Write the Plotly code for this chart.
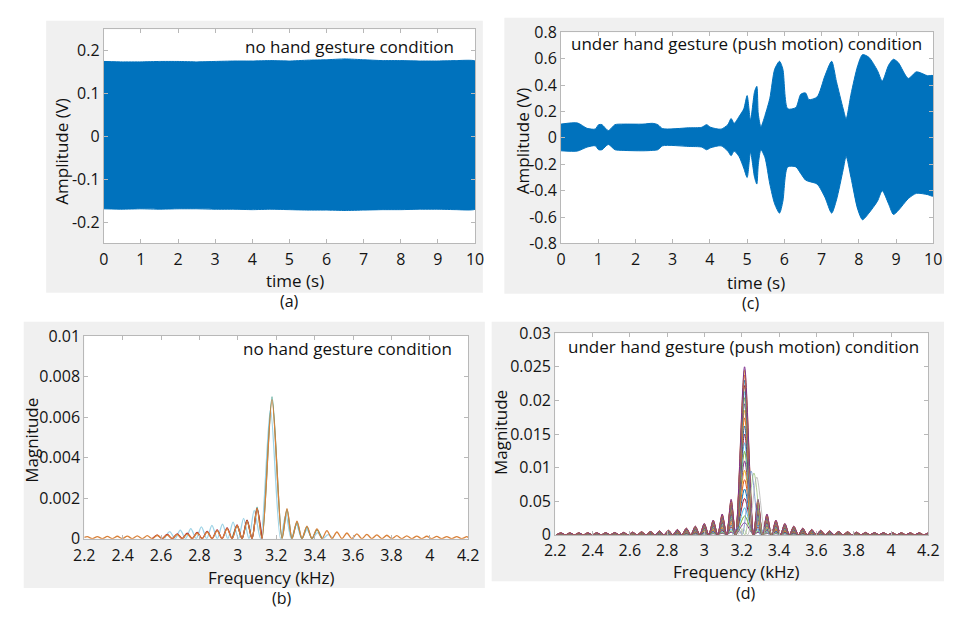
import plotly.graph_objects as go

FONT = "Open Sans"
BLUE = "#0072BD"
MATLAB = ["#0072BD", "#D95319", "#EDB120", "#7E2F8E", "#77AC30", "#4DBEEE", "#A2142F"]

# ---------------- (a) time signal, no gesture: envelope ----------------
a_t = [0, 0.5, 1, 1.5, 2, 2.5, 3, 3.5, 4, 4.5, 5, 5.5, 6, 6.5, 7, 7.5, 8, 8.5, 9, 9.5, 10]
a_upper = [0.175, 0.174, 0.174, 0.175, 0.175, 0.174, 0.175, 0.176, 0.176, 0.177, 0.176,
           0.178, 0.179, 0.181, 0.179, 0.177, 0.177, 0.176, 0.176, 0.177, 0.176]
a_lower = [-0.169, -0.170, -0.169, -0.170, -0.169, -0.169, -0.170, -0.170, -0.171, -0.170, -0.171,
           -0.172, -0.172, -0.173, -0.172, -0.171, -0.171, -0.170, -0.170, -0.171, -0.170]

# ---------------- (c) time signal, push gesture: envelope ----------------
c_t = [0, 0.44, 0.70, 0.92, 1.01, 1.10, 1.27, 1.45, 1.67, 2.2,
       2.46, 2.6, 2.73, 3.43, 3.78, 3.91, 4.02, 4.30, 4.48, 4.57,
       4.65, 4.78, 4.91, 5.0, 5.09, 5.20, 5.26, 5.30, 5.37, 5.48,
       5.61, 5.74, 5.87, 5.96, 6.09, 6.31, 6.44, 6.57, 6.66, 6.88,
       7.09, 7.27, 7.40, 7.58, 7.66, 7.79, 7.97, 8.10, 8.27, 8.50,
       8.63, 8.80, 8.93, 9.06, 9.33, 9.55, 9.85, 10]
c_upper = [0.104, 0.113, 0.072, 0.067, 0.10, 0.10, 0.055, 0.10, 0.104, 0.104,
           0.11, 0.10, 0.07, 0.076, 0.08, 0.10, 0.08, 0.066, 0.10, 0.146,
           0.11, 0.16, 0.22, 0.32, 0.135, 0.35, 0.39, 0.18, 0.084, 0.17,
           0.30, 0.52, 0.58, 0.52, 0.22, 0.23, 0.33, 0.34, 0.29, 0.31,
           0.47, 0.58, 0.425, 0.22, 0.145, 0.33, 0.546, 0.63, 0.61, 0.51,
           0.43, 0.55, 0.595, 0.57, 0.45, 0.50, 0.47, 0.47]
c_lower = [-0.098, -0.10, -0.07, -0.06, -0.09, -0.09, -0.05, -0.09, -0.095, -0.098,
           -0.095, -0.09, -0.06, -0.065, -0.07, -0.09, -0.075, -0.06, -0.10, -0.135,
           -0.10, -0.14, -0.23, -0.30, -0.11, -0.30, -0.35, -0.20, -0.09, -0.15,
           -0.35, -0.50, -0.57, -0.48, -0.22, -0.22, -0.27, -0.32, -0.33, -0.35,
           -0.45, -0.57, -0.47, -0.24, -0.14, -0.30, -0.54, -0.62, -0.57, -0.48,
           -0.40, -0.50, -0.58, -0.55, -0.46, -0.42, -0.43, -0.44]

# ---------------- (b) spectrum, no gesture ----------------
b_freq = [2.200, 2.216, 2.242, 2.268, 2.294, 2.320, 2.346, 2.372, 2.398, 2.424, 2.450, 2.476,
          2.502, 2.528, 2.554, 2.580, 2.606, 2.632, 2.658, 2.684, 2.710, 2.736, 2.762, 2.788,
          2.814, 2.840, 2.866, 2.892, 2.918, 2.944, 2.970, 2.996, 3.022, 3.048, 3.074, 3.100,
          3.126, 3.178, 3.230, 3.256, 3.282, 3.308, 3.334, 3.360, 3.386, 3.412, 3.438, 3.464,
          3.490, 3.516, 3.542, 3.568, 3.594, 3.620, 3.646, 3.672, 3.698, 3.724, 3.750, 3.776,
          3.802, 3.828, 3.854, 3.880, 3.906, 3.932, 3.958, 3.984, 4.010, 4.036, 4.062, 4.088,
          4.114, 4.140, 4.166, 4.192, 4.200]
b_mag_orange = [0.00006, 0.00010, 0, 0.00010, 0, 0.00011, 0, 0.00012, 0, 0.00013, 0, 0.00014,
                0, 0.00015, 0, 0.00017, 0, 0.00019, 0, 0.00021, 0, 0.00024, 0, 0.00028,
                0, 0.00033, 0, 0.00040, 0, 0.00050, 0, 0.00065, 0, 0.00088, 0, 0.00150,
                0, 0.00685, 0, 0.00148, 0, 0.00086, 0, 0.00062, 0, 0.00048, 0, 0.00040,
                0, 0.00033, 0, 0.00028, 0, 0.00024, 0, 0.00021, 0, 0.00019, 0, 0.00017,
                0, 0.00015, 0, 0.00014, 0, 0.00013, 0, 0.00012, 0, 0.00011, 0, 0.00010,
                0, 0.00010, 0, 0.00010, 0.00006]
b_freq_green = [2.970, 2.996, 3.022, 3.048, 3.074, 3.100, 3.126, 3.178, 3.230, 3.256, 3.282,
                3.308, 3.334, 3.360, 3.386, 3.412, 3.438]
b_mag_green = [0, 0.00063, 0, 0.00090, 0, 0.00156, 0, 0.00700, 0, 0.00145, 0, 0.00082,
               0, 0.00058, 0, 0.00044, 0]
b_freq_red = [2.554, 2.580, 2.606, 2.632, 2.658, 2.684, 2.710, 2.736, 2.762, 2.788, 2.814,
              2.840, 2.866, 2.892, 2.918, 2.944, 2.970, 2.996, 3.022, 3.048, 3.074, 3.100, 3.126]
b_mag_red = [0, 0.00018, 0, 0.00021, 0, 0.00024, 0, 0.00027, 0, 0.00031, 0, 0.00036, 0,
             0.00043, 0, 0.00053, 0, 0.00068, 0, 0.00091, 0, 0.00148, 0]
b_freq_lblue = [2.618, 2.645, 2.673, 2.700, 2.728, 2.755, 2.783, 2.810, 2.838, 2.865, 2.893,
                2.920, 2.948, 2.975, 3.003, 3.030, 3.058, 3.085, 3.118, 3.170, 3.222, 3.250,
                3.278, 3.305, 3.333, 3.360, 3.388, 3.415, 3.443, 3.470, 3.498]
b_mag_lblue = [0, 0.00035, 0, 0.00042, 0, 0.00050, 0, 0.00058, 0, 0.00066, 0, 0.00072, 0,
               0.00082, 0, 0.00100, 0, 0.00140, 0, 0.00640, 0, 0.00120, 0, 0.00070, 0,
               0.00045, 0, 0.00030, 0, 0.00020, 0]

# ---------------- (d) spectrum, push gesture ----------------
d_freq = [2.207, 2.231, 2.255, 2.279, 2.303, 2.327, 2.351, 2.375, 2.399, 2.423, 2.447, 2.471,
          2.495, 2.519, 2.543, 2.567, 2.591, 2.615, 2.639, 2.663, 2.687, 2.711, 2.735, 2.759,
          2.783, 2.807, 2.831, 2.855, 2.879, 2.903, 2.927, 2.951, 2.975, 2.999, 3.023, 3.047,
          3.071, 3.095, 3.119, 3.143, 3.167, 3.215, 3.263, 3.287, 3.311, 3.335, 3.359, 3.383,
          3.407, 3.431, 3.455, 3.479, 3.503, 3.527, 3.551, 3.575, 3.599, 3.623, 3.647, 3.671,
          3.695, 3.719, 3.743, 3.767, 3.791, 3.815, 3.839, 3.863, 3.887, 3.911, 3.935, 3.959,
          3.983, 4.007, 4.031, 4.055, 4.079, 4.103, 4.127, 4.151, 4.175, 4.199]
# envelope of the tallest trace
d_env = [0, 0.00030, 0, 0.00030, 0, 0.00030, 0, 0.00031, 0, 0.00032, 0, 0.00033,
         0, 0.00035, 0, 0.00037, 0, 0.00040, 0, 0.00045, 0, 0.00050, 0, 0.00058,
         0, 0.00068, 0, 0.00080, 0, 0.00100, 0, 0.00130, 0, 0.00170, 0, 0.00220,
         0, 0.00310, 0, 0.00530, 0, 0.02500, 0, 0.00530, 0, 0.00310, 0, 0.00220,
         0, 0.00170, 0, 0.00130, 0, 0.00100, 0, 0.00080, 0, 0.00068, 0, 0.00058,
         0, 0.00050, 0, 0.00045, 0, 0.00040, 0, 0.00037, 0, 0.00035, 0, 0.00033,
         0, 0.00032, 0, 0.00031, 0, 0.00030, 0, 0.00030, 0, 0.00030]
# peak magnitudes of the overlapping frames
d_peaks = [0.0250, 0.0245, 0.0238, 0.0230, 0.0222, 0.0213, 0.0204, 0.0195, 0.0185, 0.0174,
           0.0162, 0.0150, 0.0137, 0.0124, 0.0110, 0.0096, 0.0082, 0.0068, 0.0054, 0.0040,
           0.0028, 0.0018]
d_shift_freq = [
    [3.150, 3.178, 3.202, 3.250, 3.298, 3.322, 3.346],
    [3.165, 3.193, 3.217, 3.265, 3.313, 3.337, 3.361],
    [3.180, 3.208, 3.232, 3.280, 3.328, 3.352, 3.376],
]
d_shift_mag = [
    [0, 0.0011, 0, 0.0095, 0, 0.0011, 0],
    [0, 0.0010, 0, 0.0092, 0, 0.0010, 0],
    [0, 0.0009, 0, 0.0086, 0, 0.0009, 0],
]
d_shift_colors = ["#6A8CC7", "#9BBF7A", "#B4B4B4"]

# ---------------- tick labels ----------------
time_ticks = [0, 1, 2, 3, 4, 5, 6, 7, 8, 9, 10]
a_yticks = [-0.2, -0.1, 0, 0.1, 0.2]
a_ytext = ["-0.2", "-0.1", "0", "0.1", "0.2"]
c_yticks = [-0.8, -0.6, -0.4, -0.2, 0, 0.2, 0.4, 0.6, 0.8]
c_ytext = ["-0.8", "-0.6", "-0.4", "-0.2", "0", "0.2", "0.4", "0.6", "0.8"]
f_ticks = [2.2, 2.4, 2.6, 2.8, 3.0, 3.2, 3.4, 3.6, 3.8, 4.0, 4.2]
f_text = ["2.2", "2.4", "2.6", "2.8", "3", "3.2", "3.4", "3.6", "3.8", "4", "4.2"]
b_yticks = [0, 0.002, 0.004, 0.006, 0.008, 0.01]
b_ytext = ["0", "0.002", "0.004", "0.006", "0.008", "0.01"]
d_yticks = [0, 0.005, 0.01, 0.015, 0.02, 0.025, 0.03]
d_ytext = ["0", "0.05", "0.01", "0.015", "0.02", "0.025", "0.03"]

fig = go.Figure()

def envelope(t, up, lo, xa, ya, smooth):
    fig.add_trace(go.Scatter(x=t + t[::-1], y=up + lo[::-1], mode="lines", fill="toself",
                             fillcolor=BLUE,
                             line=dict(color=BLUE, width=1, shape="spline", smoothing=smooth),
                             xaxis=xa, yaxis=ya, hoverinfo="skip", showlegend=False))

envelope(a_t, a_upper, a_lower, "x", "y", 0.3)
envelope(c_t, c_upper, c_lower, "x2", "y2", 0.7)

def spec(x, y, color, xa, ya, width=1.3, smooth=0.8):
    fig.add_trace(go.Scatter(x=x, y=y, mode="lines",
                             line=dict(color=color, width=width, shape="spline", smoothing=smooth),
                             xaxis=xa, yaxis=ya, hoverinfo="skip", showlegend=False))

spec(b_freq_lblue, b_mag_lblue, "#9ED3E6", "x3", "y3")
spec(b_freq_green, b_mag_green, "#3E9C8A", "x3", "y3")
spec(b_freq_red, b_mag_red, "#A2142F", "x3", "y3")
spec(b_freq, b_mag_orange, "#D9823A", "x3", "y3")

for i, pk in enumerate(d_peaks[::-1]):
    scale = pk / d_env[41]
    col = MATLAB[(i + 3) % 7]
    spec(d_freq, [v * scale for v in d_env], col, "x4", "y4", width=1.0)
for fx, fy, col in zip(d_shift_freq, d_shift_mag, d_shift_colors):
    spec(fx, fy, col, "x4", "y4", width=0.8)

W, H = 955, 623
def xd(a, b):
    return [a / W, b / W]
def yd(top, bottom):
    return [1 - bottom / H, 1 - top / H]

FS = 17
tickfont = dict(family=FONT, size=16, color="#141414")
base = dict(showline=True, linecolor="#b8b8b8", linewidth=1, mirror="ticks", ticks="inside",
            ticklen=4, tickcolor="#b8b8b8", showgrid=False, zeroline=False, tickfont=tickfont,
            fixedrange=True)

axes_px = {
    "": (95, 19, 475, 241),
    "2": (563, 22, 944, 241),
    "3": (75, 337, 468, 547),
    "4": (557, 334, 939, 543),
}

layout = dict(
    width=W, height=H, margin=dict(l=0, r=0, t=0, b=0),
    paper_bgcolor="white", plot_bgcolor="white", showlegend=False,
    xaxis=dict(base, domain=xd(95, 475), range=[0, 10], anchor="y", tickvals=time_ticks,
               ticklabelstandoff=1),
    yaxis=dict(base, domain=yd(19, 241), range=[-0.25, 0.25], anchor="x", tickvals=a_yticks,
               ticktext=a_ytext),
    xaxis2=dict(base, domain=xd(563, 944), range=[0, 10], anchor="y2", tickvals=time_ticks,
                ticklabelstandoff=1),
    yaxis2=dict(base, domain=yd(22, 241), range=[-0.8, 0.8], anchor="x2", tickvals=c_yticks,
                ticktext=c_ytext),
    xaxis3=dict(base, domain=xd(75, 468), range=[2.2, 4.2], anchor="y3", tickvals=f_ticks,
                ticktext=f_text, ticklabelstandoff=2),
    yaxis3=dict(base, domain=yd(337, 547), range=[0, 0.01], anchor="x3", tickvals=b_yticks,
                ticktext=b_ytext),
    xaxis4=dict(base, domain=xd(557, 939), range=[2.2, 4.2], anchor="y4", tickvals=f_ticks,
                ticktext=f_text, ticklabelstandoff=1),
    yaxis4=dict(base, domain=yd(334, 543), range=[0, 0.03], anchor="x4", tickvals=d_yticks,
                ticktext=d_ytext),
)
fig.update_layout(**layout)

# grey figure panels behind each axes, white axes areas on top of them
for (x0, y0, x1, y1) in [(36, 10, 483, 292), (505, 7, 955, 293), (13, 322, 485, 598), (492, 322, 955, 591)]:
    fig.add_shape(type="rect", xref="paper", yref="paper", x0=x0 / W, x1=x1 / W,
                  y0=1 - y1 / H, y1=1 - y0 / H, fillcolor="#F0F0F0", line=dict(width=0),
                  layer="below")
for (x0, y0, x1, y1) in axes_px.values():
    fig.add_shape(type="rect", xref="paper", yref="paper", x0=x0 / W, x1=x1 / W,
                  y0=1 - y1 / H, y1=1 - y0 / H, fillcolor="white", line=dict(width=0),
                  layer="below")

def label(text, x, y, anchor="center", angle=0, size=FS):
    fig.add_annotation(text=text, x=x / W, y=1 - y / H, xref="paper", yref="paper",
                       xanchor=anchor, yanchor="middle", showarrow=False, textangle=angle,
                       font=dict(family=FONT, size=size, color="#111111"))

label("no hand gesture condition", 455, 37, anchor="right")
label("time (s)", 291, 279)
label("(a)", 285, 301, size=16)
label("Amplitude (V)", 52, 146, angle=-90)

label("under hand gesture (push motion) condition", 571, 34, anchor="left")
label("time (s)", 763, 281)
label("(c)", 757, 303, size=16)
label("Amplitude (V)", 523, 135, angle=-90)

label("no hand gesture condition", 453, 350, anchor="right")
label("Frequency (kHz)", 267, 587)
label("(b)", 277, 609, size=16)
label("Magnitude", 21, 445, angle=-90)

label("under hand gesture (push motion) condition", 568, 348, anchor="left")
label("Frequency (kHz)", 743, 581)
label("(d)", 752, 603, size=16)
label("Magnitude", 501, 437, angle=-90)

fig.write_html("out.html")
